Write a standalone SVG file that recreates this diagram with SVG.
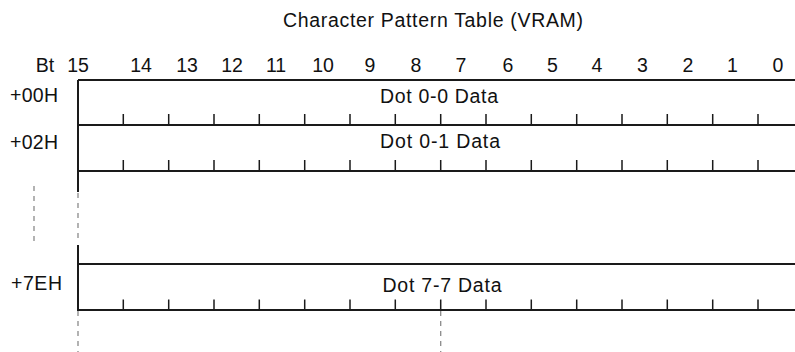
<svg xmlns="http://www.w3.org/2000/svg" width="795" height="352" viewBox="0 0 795 352">
<defs>
<style>
text{font-family:"Liberation Sans",Arial,sans-serif;font-size:19.5px;fill:#111}
.mid{text-anchor:middle}
.ln{stroke:#1a1a1a;stroke-width:2;fill:none}
.tk{stroke:#1a1a1a;stroke-width:1.5;fill:none}
.ds{stroke:#8a8a8a;stroke-width:1.3;stroke-dasharray:5 5;fill:none}
</style>
<path id="ticks" class="tk" d="M123.3 0v11M168.7 0v11M214 0v11M259.3 0v11M304.7 0v11M350 0v11M395.3 0v11M440.7 0v11M486 0v11M531.3 0v11M576.7 0v11M622 0v11M667.3 0v11M712.7 0v11M758 0v11"/>
</defs>
<rect width="795" height="352" fill="#fff"/>
<g id="title">
<text class="mid" x="433" y="27" textLength="300" lengthAdjust="spacing">Character Pattern Table (VRAM)</text>
</g>
<g id="bit-header">
<text class="mid" x="45" y="72">Bt</text>
<text class="mid" x="78" y="72">15</text>
<text class="mid" x="141" y="72">14</text>
<text class="mid" x="187" y="72">13</text>
<text class="mid" x="232" y="72">12</text>
<text class="mid" x="276" y="72">11</text>
<text class="mid" x="323" y="72">10</text>
<text class="mid" x="370" y="72">9</text>
<text class="mid" x="416" y="72">8</text>
<text class="mid" x="461" y="72">7</text>
<text class="mid" x="508" y="72">6</text>
<text class="mid" x="552.5" y="72">5</text>
<text class="mid" x="597" y="72">4</text>
<text class="mid" x="642.5" y="72">3</text>
<text class="mid" x="688" y="72">2</text>
<text class="mid" x="732.5" y="72">1</text>
<text class="mid" x="778" y="72">0</text>
</g>
<g id="row-00H">
<path class="ln" d="M78 80H795M78 125H795M78 80V125"/>
<use href="#ticks" y="114"/>
<text x="10" y="102" textLength="48" lengthAdjust="spacing">+00H</text>
<text class="mid" x="439" y="103" textLength="118" lengthAdjust="spacing">Dot 0-0 Data</text>
</g>
<g id="row-02H">
<path class="ln" d="M78 171H795M78 125V192"/>
<use href="#ticks" y="160"/>
<text x="10" y="149" textLength="48" lengthAdjust="spacing">+02H</text>
<text class="mid" x="440" y="148" textLength="120" lengthAdjust="spacing">Dot 0-1 Data</text>
</g>
<g id="row-7EH">
<path class="ln" d="M78 264H795M78 245V310"/>
<path class="ln" stroke-width="2.5" d="M77 310H795"/>
<use href="#ticks" y="299.5"/>
<text x="11" y="290" textLength="51" lengthAdjust="spacing">+7EH</text>
<text class="mid" x="442" y="292" textLength="119" lengthAdjust="spacing">Dot 7-7 Data</text>
</g>
<g id="connectors">
<path class="ds" d="M78 193V238"/>
<path class="ds" d="M34 186V245"/>
<path class="ds" d="M78 311V352"/>
<path class="ds" d="M440.7 311V352"/>
</g>
</svg>
